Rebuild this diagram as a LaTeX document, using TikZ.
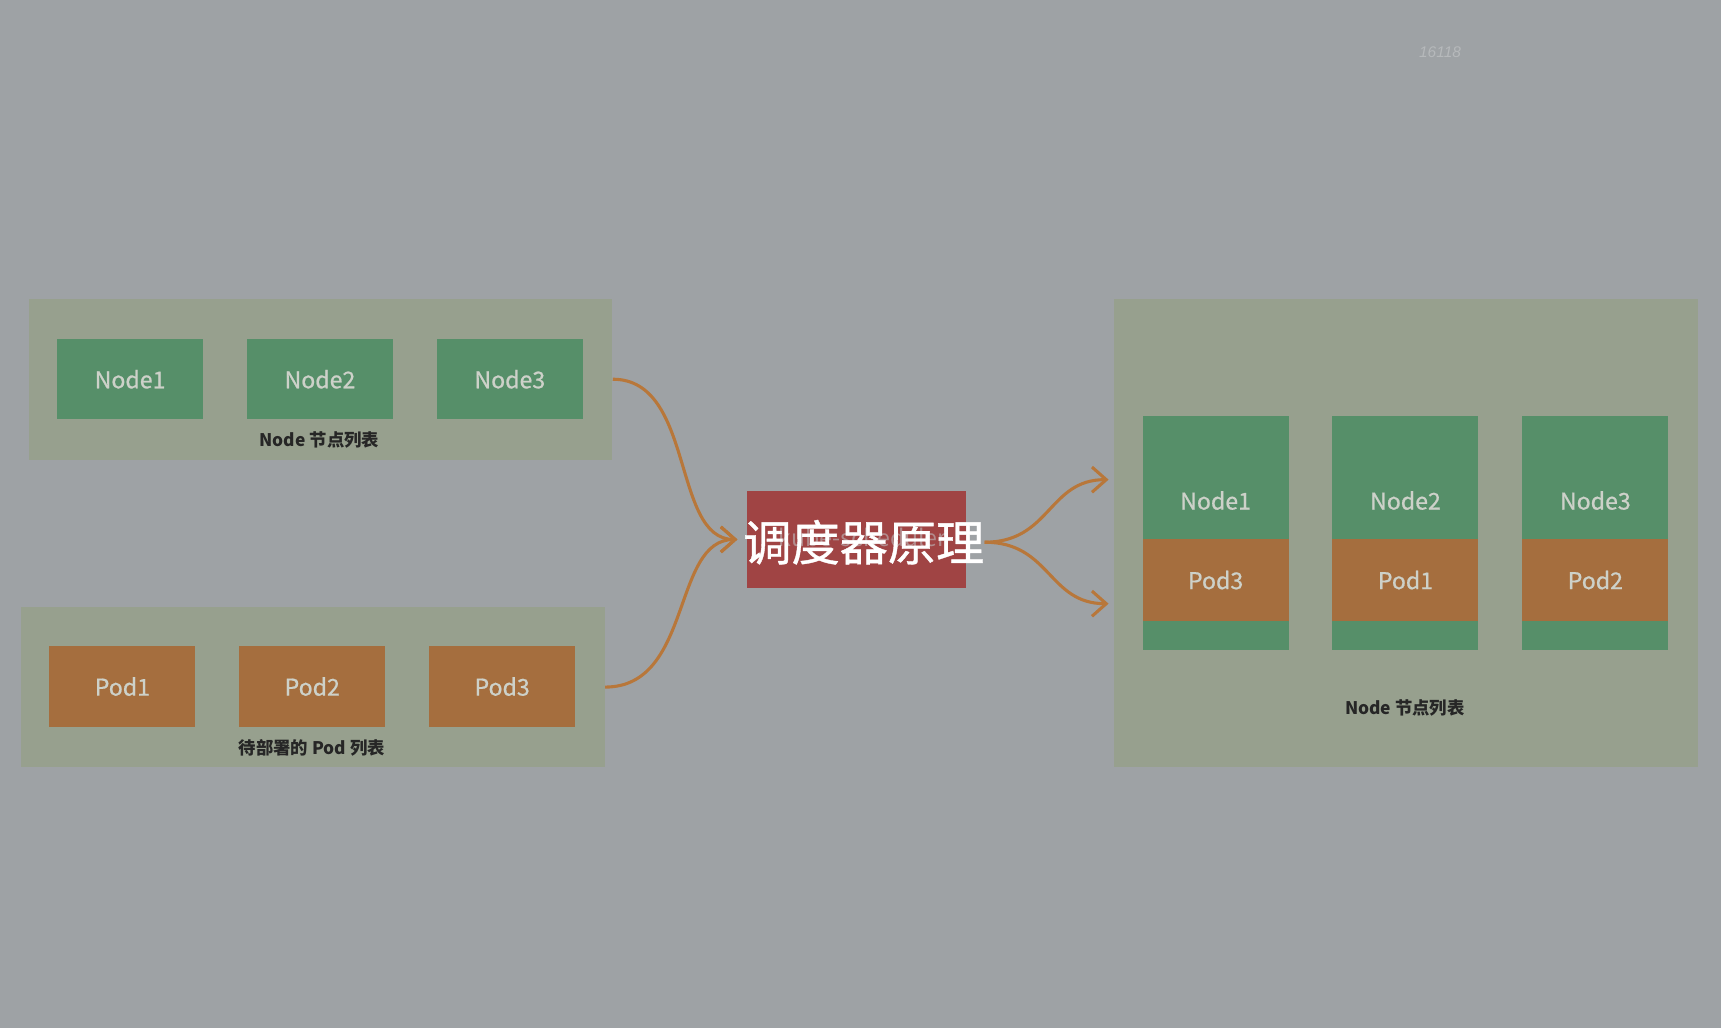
\documentclass[tikz,border=0pt]{standalone}
\usepackage{fontspec}
\setmainfont{Noto Sans CJK SC}
\newfontfamily\medfont[FakeBold=0.8]{Noto Sans CJK SC}
\newfontfamily\markfont{Liberation Sans}
\usetikzlibrary{arrows.meta}
\definecolor{bggray}{HTML}{9EA2A5}
\definecolor{panelgray}{HTML}{97A08E}
\definecolor{nodegreen}{HTML}{568F69}
\definecolor{podorange}{HTML}{A56E3E}
\definecolor{schedred}{HTML}{A04444}
\definecolor{boxtext}{HTML}{CDD1C9}
\definecolor{arrowcol}{HTML}{B8773A}
\tikzset{
  panel/.style={rectangle,fill=panelgray,minimum width=10.64cm},
  nodebox/.style={rectangle,fill=nodegreen,text=boxtext,minimum width=2.66cm,minimum height=1.46cm,font=\medfont\fontsize{12}{14}\selectfont},
  podbox/.style={nodebox,fill=podorange},
  listlabel/.style={text=black!85,font=\bfseries\fontsize{9}{11}\selectfont},
  flow/.style={draw=arrowcol,line width=1.6pt,-{Straight Barb[length=2.6mm,width=4.6mm]}}
}
\begin{document}
\begin{tikzpicture}
    [x=0.02cm,y=-0.02cm,inner sep=0pt]
    \fill [bggray] (0,0) rectangle (1568,937);
    \useasboundingbox (0,0) rectangle (1568,937);
    \node [text=bggray!75!white,font=\markfont\itshape\fontsize{8}{9}\selectfont] (mark) at (1312,48) {16118};
    % left side: node list and pod list
    \node (npanel) at (292,345.5) [panel,minimum height=2.94cm] {};
    \node (n1) at (118.5,345.5) [nodebox] {Node1};
    \node (n2) at (291.5,345.5) [nodebox] {Node2};
    \node (n3) at (464.5,345.5) [nodebox] {Node3};
    \node (nlabel) at (291,401) [listlabel] {Node 节点列表};
    \node (ppanel) at (285,626) [panel,minimum height=2.92cm] {};
    \node (p1) at (111.5,625.5) [podbox] {Pod1};
    \node (p2) at (284.5,625.5) [podbox] {Pod2};
    \node (p3) at (457.5,625.5) [podbox] {Pod3};
    \node (plabel) at (284,681) [listlabel] {待部署的 Pod 列表};
    % scheduler
    \node (sched) at (780.5,491.5) [rectangle,fill=schedred,minimum width=3.98cm,minimum height=1.78cm] {};
    \node (ghost) at (786,490) [text=schedred!55!bggray!80!white,font=\fontsize{12}{14}\selectfont] {kube-scheduler};
    \node (title) at (787,494) [text=white,font=\medfont\fontsize{25}{29}\selectfont] {调度器原理};
    % right side: nodes after scheduling
    \node (rpanel) at (1281,485.5) [panel,minimum height=8.54cm] {};
    \foreach \i/\x/\p in {1/1107.5/3, 2/1280.5/1, 3/1453.5/2} {
      \node (rn\i) at (\x,485.5) [nodebox,minimum height=4.26cm] {};
      \node (rt\i) at (\x,456) [text=boxtext,font=\medfont\fontsize{12}{14}\selectfont] {Node\i};
      \node (rp\i) at (\x,528.5) [podbox,minimum height=1.5cm] {Pod\p};
    }
    \node (rlabel) at (1280,645) [listlabel] {Node 节点列表};
    \coordinate (in1) at (1010,437);
    \coordinate (in2) at (1010,550);
    \draw [flow] (npanel.east) .. controls +(75,0) and +(-60,0) .. ([xshift=-5]sched.west);
    \draw [flow] (ppanel.east) .. controls +(80,0) and +(-60,0) .. ([xshift=-5]sched.west);
    \draw [flow] (title.east) .. controls +(60,0) and +(-55,0) .. (in1);
    \draw [flow] (title.east) .. controls +(60,0) and +(-55,0) .. (in2);
  \end{tikzpicture}
\end{document}
